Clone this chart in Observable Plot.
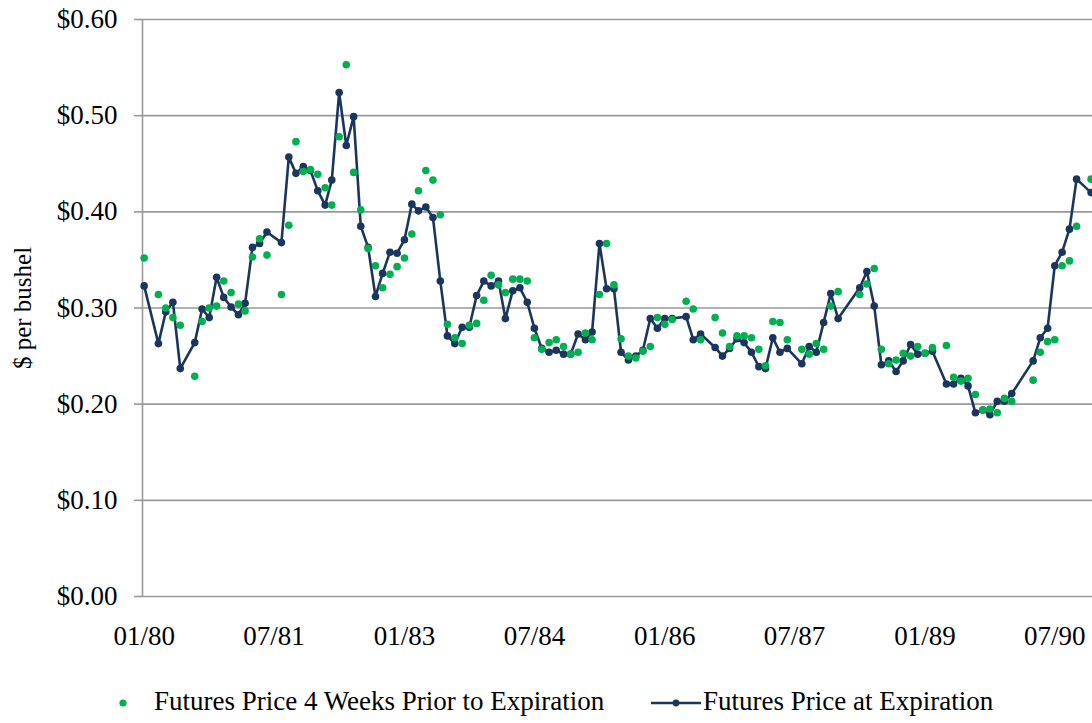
<!DOCTYPE html>
<html>
<head>
<meta charset="utf-8">
<script src="https://cdn.jsdelivr.net/npm/d3@7"></script>
<script src="https://cdn.jsdelivr.net/npm/@observablehq/plot@0.6"></script>
<style>
  html, body { margin: 0; padding: 0; background: #fff; overflow: hidden; }
  body { width: 1092px; height: 723px; position: relative; font-family: "Liberation Serif", "Times New Roman", serif; }
  #chart { position: absolute; left: 0; top: 0; }
  .lg { position: absolute; top: 686px; font-size: 27px; line-height: 30px; color: #000; white-space: nowrap; }
  .lgsym { position: absolute; }
</style>
</head>
<body>
<div id="chart"></div>
<svg class="lgsym" style="left:110px;top:690px" width="30" height="26"><circle cx="13" cy="13" r="3.6" fill="#00b050"></circle></svg>
<div class="lg" style="left:154px">Futures Price 4 Weeks Prior to Expiration</div>
<svg class="lgsym" style="left:648px;top:690px" width="56" height="26"><line x1="3" y1="13" x2="53" y2="13" stroke="#1b365d" stroke-width="2.5"></line><circle cx="28" cy="13" r="3.4" fill="#1b365d"></circle></svg>
<div class="lg" style="left:703px">Futures Price at Expiration</div>
<script>
// Contract months (one observation per month; some months missing)
const months = [
  "1980-01","1980-03","1980-04","1980-05","1980-06","1980-08","1980-09","1980-10","1980-11","1980-12",
  "1981-01","1981-02","1981-03","1981-04","1981-05","1981-06","1981-08","1981-09","1981-10","1981-11","1981-12",
  "1982-01","1982-02","1982-03","1982-04","1982-05","1982-06","1982-07","1982-08","1982-09","1982-10","1982-11","1982-12",
  "1983-01","1983-02","1983-03","1983-04","1983-05","1983-06","1983-07","1983-08","1983-09","1983-10","1983-11","1983-12",
  "1984-01","1984-02","1984-03","1984-04","1984-05","1984-06","1984-07","1984-08","1984-09","1984-10","1984-11","1984-12",
  "1985-01","1985-02","1985-03","1985-04","1985-05","1985-06","1985-07","1985-08","1985-09","1985-10","1985-11","1985-12",
  "1986-01","1986-02","1986-04","1986-05","1986-06","1986-08","1986-09","1986-10","1986-11","1986-12",
  "1987-01","1987-02","1987-03","1987-04","1987-05","1987-06","1987-08","1987-09","1987-10","1987-11","1987-12",
  "1988-01","1988-04","1988-05","1988-06","1988-07","1988-08","1988-09","1988-10","1988-11","1988-12",
  "1989-01","1989-02","1989-04","1989-05","1989-06","1989-07","1989-08","1989-09","1989-10","1989-11","1989-12",
  "1990-01","1990-04","1990-05","1990-06","1990-07","1990-08","1990-09","1990-10","1990-12"
];
// Futures Price at Expiration ($ per bushel)
const priceAtExpiration = [
  0.323,0.263,0.296,0.306,0.237,0.264,0.299,0.290,0.332,0.311,
  0.301,0.293,0.305,0.363,0.367,0.379,0.368,0.457,0.440,0.447,0.443,
  0.422,0.407,0.433,0.524,0.469,0.499,0.385,0.363,0.312,0.336,0.358,0.357,
  0.371,0.408,0.401,0.405,0.394,0.328,0.271,0.263,0.280,0.280,0.313,0.328,
  0.323,0.328,0.289,0.318,0.321,0.306,0.279,0.258,0.254,0.256,0.252,0.252,
  0.273,0.267,0.275,0.367,0.320,0.320,0.254,0.246,0.250,0.256,0.289,0.279,
  0.289,0.289,0.291,0.267,0.273,0.259,0.250,0.258,0.268,0.264,
  0.254,0.239,0.237,0.269,0.254,0.258,0.242,0.260,0.254,0.285,0.315,
  0.289,0.321,0.338,0.302,0.241,0.245,0.234,0.245,0.262,0.252,
  0.253,0.255,0.221,0.221,0.227,0.219,0.191,0.194,0.189,0.203,0.203,
  0.211,0.245,0.269,0.279,0.344,0.358,0.382,0.434,0.420
];
// Futures Price 4 Weeks Prior to Expiration ($ per bushel)
const price4WeeksPrior = [
  0.352,0.314,0.300,0.290,0.282,0.229,0.286,0.300,0.302,0.328,
  0.316,0.304,0.297,0.353,0.372,0.355,0.314,0.386,0.473,0.442,0.444,
  0.439,0.425,0.407,0.478,0.553,0.441,0.402,0.362,0.344,0.321,0.335,0.343,
  0.352,0.377,0.422,0.443,0.433,0.397,0.283,0.269,0.263,0.282,0.284,0.308,
  0.334,0.324,0.316,0.330,0.330,0.328,0.269,0.257,0.264,0.267,0.260,0.252,
  0.254,0.274,0.267,0.314,0.367,0.324,0.268,0.250,0.248,0.255,0.260,0.290,
  0.283,0.288,0.307,0.299,0.267,0.290,0.274,0.260,0.271,0.271,
  0.269,0.257,0.240,0.286,0.285,0.267,0.257,0.252,0.263,0.257,0.302,
  0.317,0.314,0.325,0.341,0.257,0.242,0.246,0.253,0.250,0.260,
  0.253,0.259,0.261,0.228,0.224,0.227,0.210,0.194,0.195,0.191,0.206,
  0.203,0.225,0.254,0.265,0.267,0.344,0.349,0.385,0.434
];
const yTicks = [0, 0.1, 0.2, 0.3, 0.4, 0.5, 0.6];
const xTickMonths = ["1980-01","1981-07","1983-01","1984-07","1986-01","1987-07","1989-01","1990-07"];

const parseMonth = d3.utcParse("%Y-%m");
const rows = months.map((m, i) => ({
  date: parseMonth(m),
  atExp: priceAtExpiration[i],
  prior: price4WeeksPrior[i]
}));
const xDomain = [new Date(Date.UTC(1979, 11, 25)), new Date(Date.UTC(1990, 11, 7))];
const navy = "#1b365d", green = "#00b050", grid = "#999999";

const chart = Plot.plot({
  width: 1092,
  height: 665,
  marginLeft: 142,
  marginRight: 0,
  marginTop: 19,
  marginBottom: 69,
  style: { fontFamily: "'Liberation Serif', 'Times New Roman', serif", fontSize: "27px", color: "#000", background: "#fff", overflow: "visible" },
  x: { type: "utc", domain: xDomain },
  y: { domain: [0, 0.6] },
  marks: [
    Plot.gridY(yTicks, { stroke: grid, strokeOpacity: 1, strokeWidth: 1.6 }),
    Plot.ruleX([xDomain[0]], { stroke: grid, strokeWidth: 1.6 }),
    Plot.axisY({ ticks: yTicks, tickFormat: d => "$" + d.toFixed(2), tickSize: 8, tickPadding: 17, stroke: grid, strokeWidth: 1.6, label: null, fontSize: 27 }),
    Plot.axisX({ ticks: xTickMonths.map(parseMonth), tickFormat: d3.utcFormat("%m/%y"), tickSize: 0, tickPadding: 29, label: null, fontSize: 27 }),
    Plot.line(rows, { x: "date", y: "atExp", stroke: navy, strokeWidth: 2.6 }),
    Plot.dot(rows, { x: "date", y: "atExp", r: 3.8, fill: navy }),
    Plot.dot(rows, { x: "date", y: "prior", r: 3.8, fill: green }),
    Plot.text(["$ per bushel"], { text: d => d, frameAnchor: "left", textAnchor: "middle", dx: -120, rotate: -90, fontSize: 25 })
  ]
});
document.getElementById("chart").appendChild(chart);
</script>
</body>
</html>
